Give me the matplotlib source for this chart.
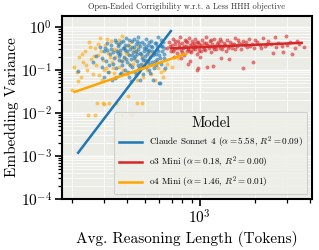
import numpy as np
import matplotlib
matplotlib.use("Agg")
import matplotlib.pyplot as plt

plt.rcParams['font.family'] = 'serif'
plt.rcParams['font.serif'] = ['cmr10', 'DejaVu Serif']
plt.rcParams['mathtext.fontset'] = 'cm'
plt.rcParams['axes.formatter.use_mathtext'] = True

title = "Open-Ended Corrigibility w.r.t. a Less HHH objective"
xlabel = "Avg. Reasoning Length (Tokens)"
ylabel = "Embedding Variance"
legend_title = "Model"

models = ["Claude Sonnet 4", "o3 Mini", "o4 Mini"]
colors = ["#1f77b4", "#d62728", "#ffa500"]
alphas = [5.58, 0.18, 1.46]
r2 = [0.09, 0.00, 0.01]
intercepts = [-15.95, -1.009, -4.89]
fit_xmin = [216, 695, 207]
fit_xmax = [694, 3600, 839]

claude_pts = [(272,0.21),(285,0.35),(290,0.12),(298,0.27),(305,0.16),(310,0.42),(316,0.09),(322,0.23),
    (328,0.31),(333,0.14),(338,0.19),(342,0.50),(347,0.11),(351,0.28),(356,0.37),(360,0.17),(364,0.08),
    (368,0.24),(372,0.45),(376,0.13),(380,0.33),(384,0.20),(388,0.10),(392,0.29),(396,0.55),(400,0.15),
    (404,0.38),(408,0.22),(412,0.07),(416,0.31),(420,0.18),(424,0.47),(428,0.12),(432,0.26),(436,0.35),
    (440,0.09),(444,0.21),(448,0.41),(452,0.16),(456,0.30),(460,0.58),(464,0.11),(468,0.25),(472,0.36),
    (476,0.14),(480,0.19),(484,0.44),(488,0.08),(492,0.27),(496,0.33),(500,0.17),(505,0.52),(510,0.12),
    (515,0.23),(520,0.39),(525,0.10),(530,0.29),(535,0.20),(540,0.48),(545,0.15),(550,0.34),(556,0.06),
    (562,0.25),(568,0.42),(574,0.13),(580,0.31),(586,0.18),(592,0.60),(598,0.22),(604,0.05),(610,0.37),
    (616,0.14),(622,0.27),(628,0.45),(634,0.19),(640,0.32),(648,0.11),(216,0.093),(262,0.15),(330,0.06),
    (345,0.065),(420,0.055),(470,0.06),(385,0.32),(455,0.23),(520,0.16),(545,0.28),(597,0.049),(300,0.07),
    (355,0.25),(410,0.50),(495,0.40),(575,0.24),(325,0.38),(365,0.29),(435,0.52),(510,0.30),(585,0.37),
    (292,0.19),(303,0.33),(318,0.13),(336,0.26),(349,0.44),(362,0.21),(374,0.16),(389,0.39),(399,0.27),
    (414,0.13),(426,0.34),(438,0.19),(446,0.28),(458,0.13),(466,0.42),(478,0.24),(486,0.17),(498,0.21),
    (507,0.35),(518,0.27),(528,0.14),(538,0.36),(552,0.22),(566,0.16),(578,0.43),(590,0.28),(606,0.19),
    (620,0.36),(637,0.24),(402,0.09),(446,0.075),(372,0.085),(533,0.085),(312,0.29),(382,0.48),(452,0.47),
    (526,0.44),(613,0.50),(360,0.40),(490,0.12),(560,0.11),(426,0.22),(395,0.18)]

o3_pts = [(665,0.32),(680,0.45),(695,0.28),(705,0.38),(715,0.52),(725,0.30),(735,0.41),(745,0.25),
    (755,0.48),(765,0.35),(775,0.58),(785,0.29),(795,0.43),(805,0.33),(815,0.22),(825,0.50),(835,0.37),
    (845,0.27),(855,0.44),(865,0.31),(875,0.55),(885,0.39),(895,0.26),(905,0.47),(915,0.34),(925,0.42),
    (935,0.30),(945,0.53),(955,0.36),(965,0.24),(975,0.45),(985,0.32),(995,0.40),(1010,0.28),(1025,0.50),
    (1040,0.35),(1055,0.43),(1070,0.29),(1085,0.57),(1100,0.38),(1115,0.32),(1130,0.46),(1145,0.26),
    (1160,0.41),(1175,0.34),(1190,0.52),(1210,0.37),(1230,0.30),(1250,0.44),(1270,0.39),(1290,0.33),
    (1310,0.48),(1335,0.36),(1360,0.42),(1385,0.28),(1410,0.50),(1440,0.37),(1470,0.45),(1500,0.33),
    (1530,0.40),(1565,0.55),(1600,0.36),(1640,0.43),(1680,0.30),(1720,0.47),(1760,0.38),(1810,0.35),
    (1860,0.52),(1920,0.41),(1980,0.33),(2050,0.45),(2120,0.39),(2200,0.56),(2280,0.36),(2370,0.48),
    (2460,0.40),(2560,0.60),(2680,0.42),(2800,0.37),(2950,0.61),(3100,0.44),(3300,0.33),(3500,0.40),
    (3700,0.35),(963,0.098),(882,0.16),(860,0.14),(975,0.11),(1092,0.116),(1178,0.122),(1717,0.11),
    (1948,0.15),(3180,0.23),(2840,0.26),(720,0.20),(790,0.19),(1000,0.20),(1300,0.19),(1450,0.18),(2500,0.25),
    (690,0.36),(710,0.27),(730,0.47),(750,0.33),(770,0.40),(800,0.26),(820,0.36),(840,0.46),(860,0.33),
    (880,0.28),(900,0.40),(920,0.30),(940,0.37),(960,0.44),(990,0.27),(1020,0.39),(1050,0.31),(1080,0.42),
    (1120,0.36),(1150,0.49),(1200,0.31),(1240,0.40),(1280,0.53),(1320,0.30),(1370,0.38),(1420,0.32),
    (1490,0.41),(1550,0.30),(1620,0.50),(1700,0.40),(1790,0.44),(1890,0.37),(2000,0.50),(2150,0.33),
    (2330,0.41),(2600,0.34),(3000,0.38),(3400,0.46)]

o4_pts = [(200,0.035),(205,0.12),(212,0.09),(218,0.20),(224,0.07),(230,0.15),(236,0.28),(242,0.10),
    (248,0.45),(254,0.18),(260,0.08),(266,0.32),(272,0.13),(278,0.22),(284,0.55),(290,0.06),(296,0.17),
    (302,0.38),(308,0.11),(314,0.25),(320,0.09),(326,0.48),(332,0.15),(338,0.30),(344,0.20),(350,0.07),
    (356,0.40),(362,0.12),(368,0.26),(374,0.62),(380,0.10),(386,0.19),(392,0.34),(398,0.08),(405,0.23),
    (412,0.14),(420,0.45),(428,0.09),(436,0.29),(444,0.17),(452,0.06),(460,0.36),(470,0.12),(480,0.21),
    (490,0.07),(500,0.15),(512,0.10),(525,0.25),(540,0.08),(555,0.13),(570,0.06),(590,0.11),(610,0.09),
    (630,0.07),(660,0.14),(700,0.12),(760,0.19),(273,0.017),(295,0.017),(320,0.017),(350,0.017),
    (453,0.017),(482,0.017),(405,0.025),(267,0.009),(245,0.009),(375,0.009),(415,0.009),(425,0.009),
    (300,0.0165),(226,0.24),(238,0.13),(252,0.35),(263,0.21),(276,0.40),(288,0.27),(299,0.10),(311,0.52),
    (324,0.20),(336,0.11),(348,0.29),(360,0.50),(372,0.16),(384,0.08),(396,0.25),(410,0.36),(432,0.14),
    (448,0.26),(466,0.09),(485,0.13),(520,0.17),(580,0.15),(640,0.10),(215,0.055),(280,0.075),(340,0.085)]

data = [claude_pts, o3_pts, o4_pts]

fig = plt.figure(figsize=(3.19, 2.5), dpi=100)
ax = fig.add_axes([0.194, 0.204, 0.784, 0.732])
ax.set_facecolor('#ececE7')
ax.set_xscale('log')
ax.set_yscale('log')

for pts, c in zip([o4_pts, claude_pts, o3_pts], [colors[2], colors[0], colors[1]]):
    arr = np.array(pts)
    ax.scatter(arr[:, 0], arr[:, 1], s=8, color=c, alpha=0.6, linewidths=0, zorder=2)

for name, c, a, b, r, x0, x1 in zip(models, colors, alphas, intercepts, r2, fit_xmin, fit_xmax):
    xs = np.array([x0, x1])
    ys = 10 ** (a * np.log10(xs) + b)
    ax.plot(xs, ys, color=c, lw=1.8, zorder=3,
            label=f"{name} ($\\alpha={a:.2f}$, $R^2={r:.2f}$)")

ax.set_xlim(176, 4100)
ax.set_ylim(1e-4, 1.8)
ax.grid(True, which='major', color='white', lw=1.0, zorder=0)
ax.grid(True, which='minor', color='white', lw=0.5, zorder=0)
ax.set_axisbelow(True)
for s in ax.spines.values():
    s.set_color('black')
    s.set_linewidth(1.5)
ax.tick_params(which='major', direction='out', length=5, width=1.2, labelsize=11, pad=2, colors='black')
ax.tick_params(which='minor', direction='out', length=3, width=0.9, colors='black')
ax.xaxis.set_minor_formatter(matplotlib.ticker.NullFormatter())

ax.set_title(title, fontsize=6, pad=5, color='#333333')
ax.set_xlabel(xlabel, fontsize=11, labelpad=3)
ax.set_ylabel(ylabel, fontsize=11, labelpad=1)

leg = ax.legend(title=legend_title, loc='lower right', fontsize=6.6, title_fontsize=10.5,
                frameon=True, facecolor='#efefea', edgecolor='#cccccc', framealpha=0.9,
                handlelength=2.5, borderpad=0.5, labelspacing=0.5)
leg.get_frame().set_linewidth(0.8)

fig.savefig("out.png", dpi=100)
